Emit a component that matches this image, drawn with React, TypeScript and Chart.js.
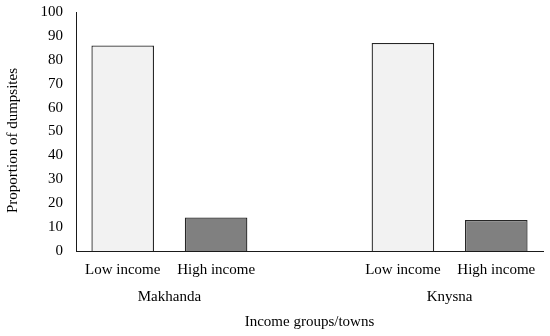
import React, { useEffect, useRef } from "react";
import { Chart, registerables } from "chart.js";

Chart.register(...registerables);

const categories = ["Low income", "High income", "", "Low income", "High income"];
const proportions: (number | null)[] = [86, 14, null, 87, 13];
const towns = ["Makhanda", "Knysna"];
// town label slots on an 11-slot edge grid (between the two income bars of each town)
const townSlots = [2, 8];
const yTitle = "Proportion of dumpsites";
const xTitle = "Income groups/towns";

const FONT = '"Liberation Serif", "Times New Roman", serif';

const townLabels: string[] = Array.from({ length: 11 }, (_, i) => {
  const k = townSlots.indexOf(i);
  return k >= 0 ? towns[k] : "";
});

const yTitlePlugin = {
  id: "yTitlePlugin",
  afterDraw(chart: any) {
    const { ctx, chartArea } = chart;
    ctx.save();
    ctx.translate(13, (chartArea.top + chartArea.bottom) / 2 + 9);
    ctx.rotate(-Math.PI / 2);
    ctx.textAlign = "center";
    ctx.textBaseline = "middle";
    ctx.fillStyle = "#000";
    ctx.font = `15px ${FONT}`;
    ctx.fillText(yTitle, 0, 0);
    ctx.restore();
  },
};

const zeroPad = (scale: any) => {
  scale.paddingTop = 0;
  scale.paddingBottom = 0;
  scale.paddingLeft = 0;
  scale.paddingRight = 0;
};

export default function App() {
  const canvasRef = useRef<HTMLCanvasElement | null>(null);

  useEffect(() => {
    const canvas = canvasRef.current;
    if (!canvas) return;
    const chart = new Chart(canvas, {
      type: "bar",
      data: {
        labels: categories,
        datasets: [
          {
            data: proportions,
            backgroundColor: (ctx: any) =>
              categories[ctx.dataIndex] === "Low income" ? "#f2f2f2" : "#808080",
            borderColor: "#262626",
            borderWidth: 1.3,
            categoryPercentage: 1,
            barPercentage: 0.67,
          },
        ],
      },
      options: {
        animation: false,
        responsive: false,
        maintainAspectRatio: false,
        layout: { padding: { top: 12, right: 7, bottom: 0, left: 0 } },
        plugins: {
          legend: { display: false },
          tooltip: { enabled: false },
        },
        scales: {
          x: {
            type: "category",
            position: "bottom",
            grid: { display: false, drawTicks: false },
            border: { display: true, color: "#1a1a1a", width: 1 },
            ticks: {
              padding: 10,
              color: "#000",
              font: { family: FONT, size: 15 },
              maxRotation: 0,
              autoSkip: false,
            },
            afterFit: (scale: any) => {
              scale.height = 28;
              zeroPad(scale);
            },
          },
          x2: {
            type: "category",
            labels: townLabels,
            position: "bottom",
            offset: false,
            grid: { display: false, drawTicks: false, offset: false },
            border: { display: false },
            ticks: {
              padding: 9,
              color: "#000",
              font: { family: FONT, size: 15 },
              maxRotation: 0,
              autoSkip: false,
            },
            title: {
              display: true,
              text: xTitle,
              color: "#000",
              font: { family: FONT, size: 15 },
              padding: { top: 0, bottom: 5 },
            },
            afterFit: (scale: any) => {
              scale.height = 57;
              zeroPad(scale);
            },
          },
          y: {
            min: 0,
            max: 100,
            grid: { display: false, drawTicks: false },
            border: { display: true, color: "#1a1a1a", width: 1 },
            ticks: {
              stepSize: 10,
              padding: 13,
              color: "#000",
              font: { family: FONT, size: 15 },
            },
            title: { display: false },
            afterFit: (scale: any) => {
              scale.width = 76;
              zeroPad(scale);
            },
          },
        },
      },
      plugins: [yTitlePlugin],
    });
    return () => chart.destroy();
  }, []);

  return (
    <div style={{ position: "fixed", left: 0, top: 0, width: 550, height: 336, background: "#fff" }}>
      <canvas ref={canvasRef} width={550} height={336} style={{ width: 550, height: 336 }} />
    </div>
  );
}
